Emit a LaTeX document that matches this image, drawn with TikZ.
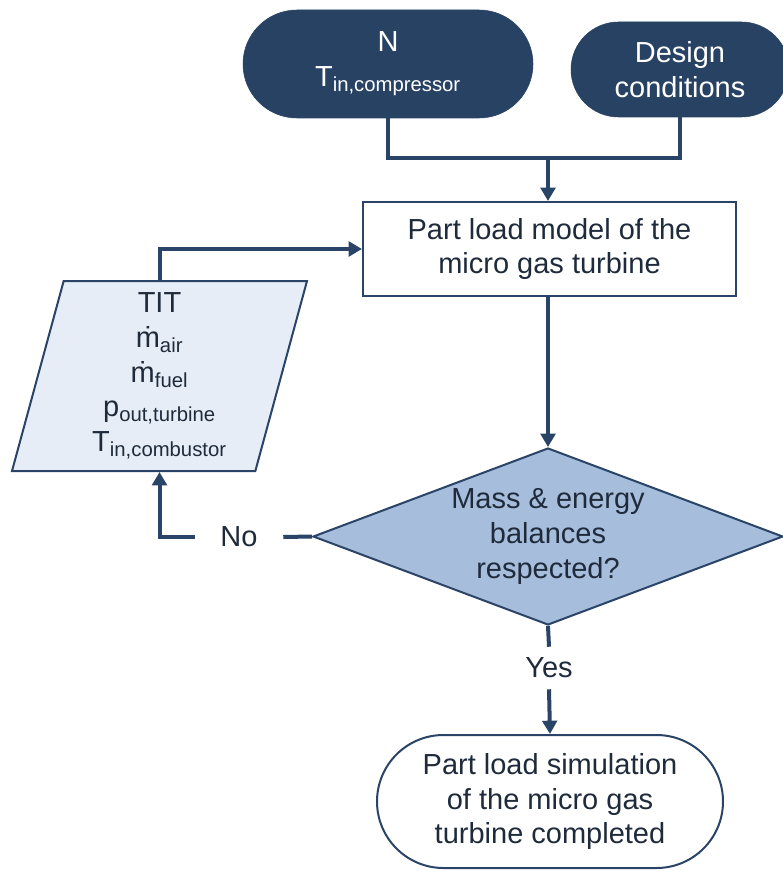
\documentclass[tikz,border=0pt]{standalone}
\usepackage{fontspec}
\setmainfont{Liberation Sans}
\usetikzlibrary{shapes.geometric,shapes.misc,arrows.meta}
\definecolor{navy}{HTML}{284264}
\definecolor{linec}{HTML}{2A4468}
\definecolor{inkc}{HTML}{1F2B3B}
\definecolor{checkfill}{HTML}{A7BDDC}
\definecolor{varsfill}{HTML}{E6EDF6}

\begin{document}
\begin{tikzpicture}[x=0.75pt,y=-0.75pt,
  every node/.style={font=\fontsize{21.75}{26}\selectfont, align=center, text=inkc},
  term/.style={rounded rectangle, draw=navy, fill=navy, text=white, inner sep=0pt},
  endterm/.style={rounded rectangle, draw=linec, line width=1.5pt, fill=white, inner sep=0pt},
  proc/.style={rectangle, draw=linec, line width=1.5pt, fill=white, inner sep=0pt},
  check/.style={diamond, aspect=2.655, draw=linec, line width=1.5pt, fill=checkfill, inner sep=0pt},
  data/.style={trapezium, trapezium left angle=72.75, trapezium right angle=107.25,
    trapezium stretches body, draw=linec, line width=1.5pt, fill=varsfill, inner sep=0pt},
  flow/.style={draw=linec, line width=3pt},
  arr/.style={flow, -{Triangle[width=11pt,length=10pt]}}]
\useasboundingbox (0,0) rectangle (782,870);

\node[term, minimum width=217.5pt, minimum height=81pt] (N) at (388,64)
  {N\\T\textsubscript{in,compressor}};
\node[term, minimum width=163.5pt, minimum height=71.25pt] (D) at (680,69.5)
  {Design\\conditions};
\node[proc, minimum width=279.75pt, minimum height=70.5pt] (model) at (549.5,249)
  {Part load model of the\\micro gas turbine};
\node[check, minimum width=352.5pt, minimum height=132.75pt] (dia) at (548,536.5)
  {Mass \& energy\\balances\\respected?};
\node[data, minimum width=221.25pt, minimum height=142.5pt] (vars) at (159.5,376)
  {TIT\\ṁ\textsubscript{air}\\ṁ\textsubscript{fuel}\\p\textsubscript{out,turbine}\\T\textsubscript{in,combustor}};
\node[minimum width=66pt, inner sep=0pt] (no) at (239,537) {No};
\node[minimum height=31.5pt, inner sep=0pt] (yes) at (549,668) {Yes};
\node[endterm, minimum width=259.5pt, minimum height=99.75pt] (done) at (550,801.5)
  {Part load simulation\\of the micro gas\\turbine completed};

\coordinate (jn) at (548,158);
\draw[flow] (N.south) |- (jn) -| (D.south);
\draw[arr] (jn) -- (jn |- model.north);
\draw[arr] (model.south -| dia.north) -- (dia.north);
\draw[flow] (dia.west) -- (no.east);
\draw[arr] (no.west) -| (vars.south);
\draw[arr] (vars.north) |- (model.west);
\draw[flow] (dia.south) -- (yes.north);
\draw[arr] (yes.south) -- (done.north);
\end{tikzpicture}
\end{document}
